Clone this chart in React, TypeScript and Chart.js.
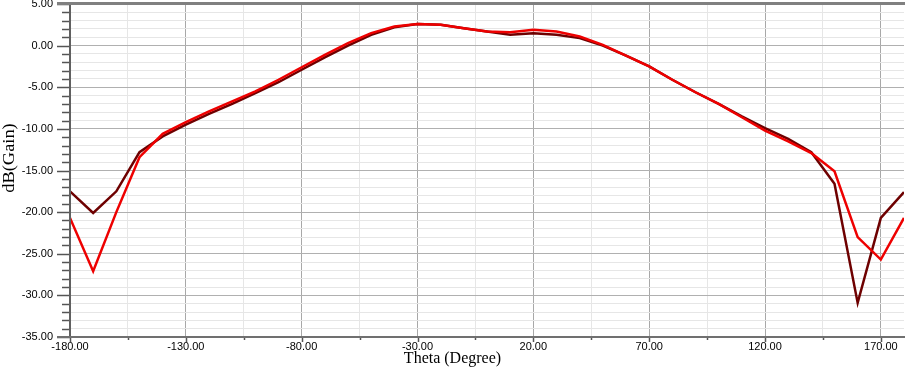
import React, { useEffect, useRef } from "react";
import Chart from "chart.js/auto";

const thetaDeg = [-180, -170, -160, -150, -140, -130, -120, -110, -100, -90, -80, -70, -60, -50, -40, -30, -20, -10, 0, 10, 20, 30, 40, 50, 60, 70, 80, 90, 100, 110, 120, 130, 140, 150, 160, 170, 180];

const gainDark = [-17.5, -20.1, -17.5, -12.8, -10.9, -9.5, -8.2, -7.0, -5.7, -4.4, -2.9, -1.4, 0.0, 1.3, 2.2, 2.6, 2.5, 2.1, 1.7, 1.3, 1.5, 1.3, 0.9, 0.0, -1.2, -2.5, -4.1, -5.6, -7.0, -8.5, -9.9, -11.2, -12.8, -16.6, -30.9, -20.7, -17.6];

const gainRed = [-20.7, -27.1, -20.0, -13.4, -10.6, -9.2, -7.9, -6.7, -5.5, -4.1, -2.6, -1.1, 0.3, 1.5, 2.3, 2.6, 2.5, 2.1, 1.7, 1.6, 1.9, 1.7, 1.1, 0.1, -1.2, -2.5, -4.1, -5.6, -7.0, -8.6, -10.2, -11.5, -12.9, -15.1, -23.0, -25.7, -20.7];

const xTickValues = [-180, -155, -130, -105, -80, -55, -30, -5, 20, 45, 70, 95, 120, 145, 170];
const xMajorTicks = [-180, -130, -80, -30, 20, 70, 120, 170];
const yMajorTicks = [5, 0, -5, -10, -15, -20, -25, -30, -35];

const xTitle = "Theta (Degree)";
const yTitle = "dB(Gain)";

const axesPlugin = {
  id: "customAxes",
  afterDraw(chart: any) {
    const ctx = chart.ctx;
    const { left, top, bottom } = chart.chartArea;
    const xs = chart.scales.x;
    const ys = chart.scales.y;
    ctx.save();
    ctx.strokeStyle = "#555555";
    ctx.lineWidth = 1.5;
    ys.ticks.forEach((t: any) => {
      const y = Math.round(ys.getPixelForValue(t.value)) + 0.5;
      const major = yMajorTicks.includes(t.value);
      const len = major ? 13 : 8;
      ctx.beginPath();
      ctx.moveTo(left - len, y);
      ctx.lineTo(left, y);
      ctx.stroke();
    });
    xs.ticks.forEach((t: any) => {
      const x = Math.round(xs.getPixelForValue(t.value)) + 0.5;
      const major = xMajorTicks.includes(t.value);
      const len = major ? 5 : 3;
      ctx.beginPath();
      ctx.moveTo(x, bottom);
      ctx.lineTo(x, bottom + len);
      ctx.stroke();
    });
    ctx.strokeStyle = "#606060";
    ctx.lineWidth = 2;
    ctx.beginPath();
    ctx.moveTo(left, top);
    ctx.lineTo(left, bottom);
    ctx.stroke();
    ctx.strokeStyle = "#707070";
    ctx.lineWidth = 2;
    ctx.beginPath();
    ctx.moveTo(left - 13, bottom);
    ctx.lineTo(chart.width, bottom);
    ctx.stroke();
    ctx.strokeStyle = "#808080";
    ctx.lineWidth = 3;
    ctx.beginPath();
    ctx.moveTo(left - 13, top - 0.5);
    ctx.lineTo(chart.width, top - 0.5);
    ctx.stroke();
    ctx.fillStyle = "#000000";
    ctx.font = '16px "Liberation Serif", "Times New Roman", serif';
    ctx.textAlign = "center";
    ctx.textBaseline = "alphabetic";
    ctx.fillText(xTitle, chart.width / 2, 363);
    ctx.translate(14, 158);
    ctx.rotate(-Math.PI / 2);
    ctx.scale(1.15, 1);
    ctx.fillText(yTitle, 0, 0);
    ctx.restore();
  },
};

export default function App() {
  const canvasRef = useRef<HTMLCanvasElement | null>(null);

  useEffect(() => {
    document.body.style.margin = "0";
    const canvas = canvasRef.current;
    if (!canvas) return;
    const chart = new Chart(canvas, {
      type: "line",
      data: {
        datasets: [
          {
            label: "Gain 1",
            data: thetaDeg.map((t, i) => ({ x: t, y: gainDark[i] })),
            borderColor: "#6e0000",
            borderWidth: 2.5,
            pointRadius: 0,
            tension: 0,
            fill: false,
            order: 1,
          },
          {
            label: "Gain 2",
            data: thetaDeg.map((t, i) => ({ x: t, y: gainRed[i] })),
            borderColor: "#ee0000",
            borderWidth: 2.5,
            pointRadius: 0,
            tension: 0,
            fill: false,
            order: 0,
          },
        ],
      },
      options: {
        animation: false,
        responsive: false,
        maintainAspectRatio: false,
        layout: { padding: { top: 4, right: 1, left: 0, bottom: 0 } },
        plugins: {
          legend: { display: false },
          tooltip: { enabled: false },
        },
        scales: {
          x: {
            type: "linear",
            min: -180,
            max: 180,
            afterBuildTicks: (scale: any) => {
              scale.ticks = xTickValues.map((v) => ({ value: v }));
            },
            afterFit: (scale: any) => {
              scale.height = 32;
              scale.paddingLeft = 0;
              scale.paddingRight = 0;
              scale.paddingTop = 0;
              scale.paddingBottom = 0;
            },
            border: { display: false },
            grid: {
              drawTicks: false,
              lineWidth: 1,
              color: (c: any) => {
                const v = c.tick ? c.tick.value : undefined;
                if (v === undefined) return "rgba(0,0,0,0)";
                return xMajorTicks.includes(v) ? "#a8a8a8" : "#e6e6e6";
              },
            },
            ticks: {
              autoSkip: false,
              maxRotation: 0,
              padding: 3,
              color: "#000000",
              font: { family: '"Liberation Sans", Arial, sans-serif', size: 11 },
              callback: (v: any) => (xMajorTicks.includes(Number(v)) ? Number(v).toFixed(2) : ""),
            },
          },
          y: {
            type: "linear",
            min: -35,
            max: 5,
            afterFit: (scale: any) => {
              scale.width = 70;
              scale.paddingLeft = 0;
              scale.paddingRight = 0;
              scale.paddingTop = 0;
              scale.paddingBottom = 0;
            },
            border: { display: false },
            grid: {
              drawTicks: false,
              lineWidth: 1,
              color: (c: any) => {
                const v = c.tick ? c.tick.value : undefined;
                if (v === undefined) return "rgba(0,0,0,0)";
                return yMajorTicks.includes(v) ? "#b0b0b0" : "#e6e6e6";
              },
            },
            ticks: {
              stepSize: 1,
              autoSkip: false,
              padding: 17,
              color: "#000000",
              font: { family: '"Liberation Sans", Arial, sans-serif', size: 11 },
              callback: (v: any) => (yMajorTicks.includes(Number(v)) ? Number(v).toFixed(2) : ""),
            },
          },
        },
      },
      plugins: [axesPlugin],
    });
    return () => {
      chart.destroy();
    };
  }, []);

  return (
    <div style={{ width: 905, height: 369 }}>
      <canvas ref={canvasRef} width={905} height={369} style={{ display: "block" }} />
    </div>
  );
}
